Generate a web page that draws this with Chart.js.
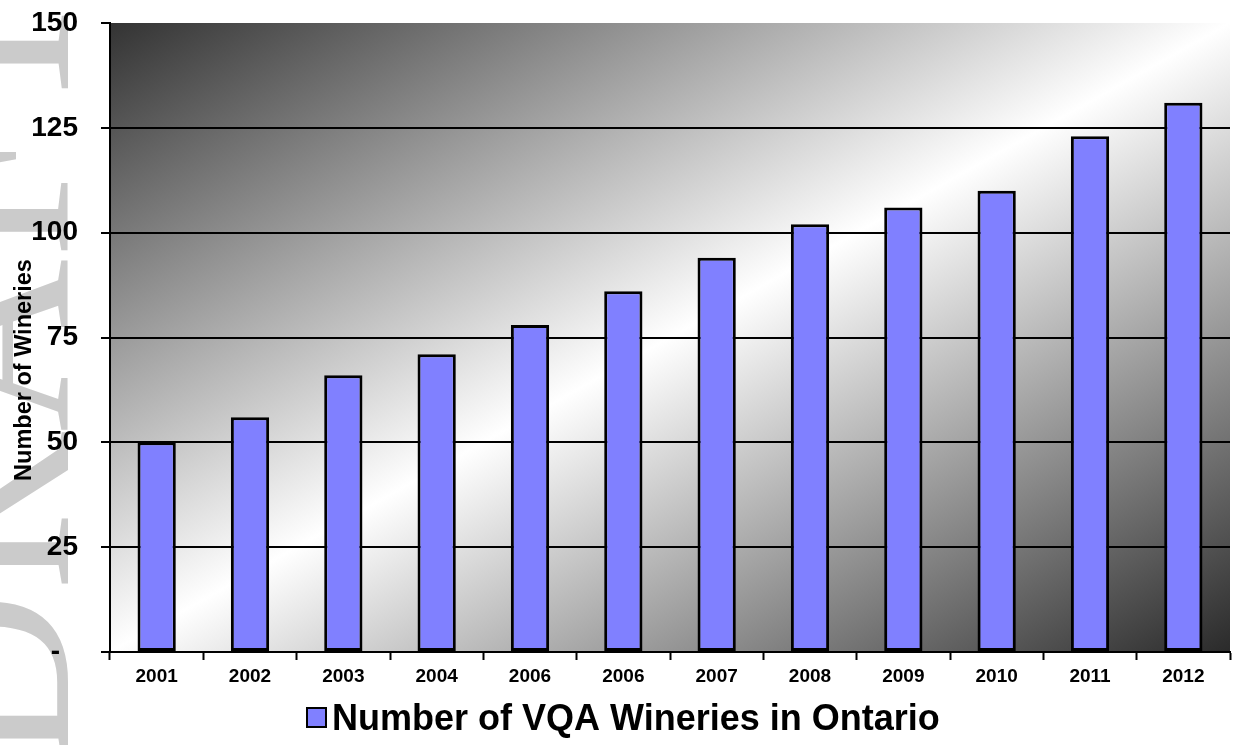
<!DOCTYPE html>
<html><head><meta charset="utf-8">
<script src="https://cdn.jsdelivr.net/npm/chart.js@4/dist/chart.umd.min.js"></script>
<style>html,body{margin:0;padding:0;background:#fff;overflow:hidden}#wrap{width:1233px;height:745px;position:relative}canvas{display:block}</style>
</head><body><div id="wrap"><canvas id="c" width="1233" height="745"></canvas></div>
<script>
const categories = ['2001','2002','2003','2004','2006','2006','2007','2008','2009','2010','2011','2012'];
const wineries = [50,56,66,71,78,86,94,102,106,110,123,131];
const yTickValues = [0,25,50,75,100,125,150];
const seriesLabel = 'Number of VQA Wineries in Ontario';
const yTitle = 'Number of Wineries';
const watermarkText = 'DRAFT';

const FONT = '"Liberation Sans", Arial, sans-serif';

const bgPlugin = {
  id: 'bg',
  beforeDraw(chart) {
    const ctx = chart.ctx;
    ctx.save();
    ctx.fillStyle = '#ffffff';
    ctx.fillRect(0, 0, chart.width, chart.height);
    // faint watermark
    ctx.save();
    ctx.fillStyle = '#cbcbcb';
    ctx.font = '240px "Liberation Serif", "DejaVu Serif", serif';
    ctx.translate(68, 372);
    ctx.rotate(-Math.PI / 2);
    ctx.textAlign = 'center';
    ctx.textBaseline = 'alphabetic';
    ctx.fillText(watermarkText, 0, 0);
    ctx.restore();
    // plot area gradient
    const a = chart.chartArea;
    ctx.save();
    ctx.translate(a.left, a.top);
    ctx.scale(a.right - a.left, a.bottom - a.top);
    const g = ctx.createLinearGradient(0, 0, 1, 1);
    g.addColorStop(0, '#333333');
    g.addColorStop(0.5, '#ffffff');
    g.addColorStop(1, '#2a2a2a');
    ctx.fillStyle = g;
    ctx.fillRect(0, 0, 1, 1);
    ctx.restore();
    ctx.restore();
  }
};

const textPlugin = {
  id: 'customText',
  afterDraw(chart) {
    const ctx = chart.ctx;
    const ds = chart.data.datasets[0];
    ctx.save();
    // y-axis title
    ctx.save();
    ctx.translate(25, 370);
    ctx.rotate(-Math.PI / 2);
    ctx.fillStyle = '#000';
    ctx.font = 'bold 23.5px ' + FONT;
    ctx.textAlign = 'center';
    ctx.textBaseline = 'middle';
    ctx.fillText(yTitle, 0, 0);
    ctx.restore();
    // legend
    ctx.fillStyle = ds.backgroundColor;
    ctx.fillRect(307, 708, 19, 19);
    ctx.strokeStyle = '#000';
    ctx.lineWidth = 2;
    ctx.strokeRect(307, 708, 19, 19);
    ctx.fillStyle = '#000';
    ctx.font = 'bold 36px ' + FONT;
    ctx.textBaseline = 'alphabetic';
    ctx.textAlign = 'left';
    ctx.fillText(ds.label, 332, 730);
    ctx.restore();
  }
};

new Chart(document.getElementById('c'), {
  type: 'bar',
  data: {
    labels: categories,
    datasets: [{
      label: seriesLabel,
      data: wineries,
      backgroundColor: '#8080FF',
      borderColor: '#000000',
      borderWidth: 3,
      borderSkipped: false,
      categoryPercentage: 1,
      barPercentage: 0.41
    }]
  },
  options: {
    responsive: false,
    devicePixelRatio: 1,
    animation: false,
    layout: { padding: { top: 23, right: 3, left: 0, bottom: 53 } },
    plugins: {
      legend: { display: false },
      tooltip: { enabled: false }
    },
    scales: {
      x: {
        offset: true,
        grid: {
          offset: true,
          drawOnChartArea: false,
          drawTicks: true,
          tickLength: 8,
          tickColor: '#000',
          tickWidth: 2,
          color: '#000'
        },
        border: { display: true, color: '#000', width: 2 },
        ticks: {
          color: '#000',
          font: { family: FONT, size: 19, weight: 'bold' },
          padding: 5,
          maxRotation: 0,
          autoSkip: false
        },
        afterFit(scale) { scale.height = 40; scale.paddingLeft = 0; scale.paddingRight = 0; }
      },
      y: {
        min: 0,
        max: 150,
        afterBuildTicks(scale) { scale.ticks = yTickValues.map(v => ({ value: v })); },
        grid: {
          color: (c) => (c.tick && c.tick.value === 150) ? 'rgba(0,0,0,0)' : '#000',
          lineWidth: 2,
          tickLength: 9,
          tickColor: '#000',
          tickWidth: 2,
          drawTicks: true
        },
        border: { display: true, color: '#000', width: 2 },
        ticks: {
          color: '#000',
          font: { family: FONT, size: 28, weight: 'bold' },
          padding: 23,
          callback: (v) => v === 0 ? '-  \u200A' : String(v)
        },
        title: { display: false },
        afterFit(scale) { scale.width = 110; scale.paddingTop = 0; scale.paddingBottom = 0; }
      }
    }
  },
  plugins: [bgPlugin, textPlugin]
});
</script>
</body></html>
